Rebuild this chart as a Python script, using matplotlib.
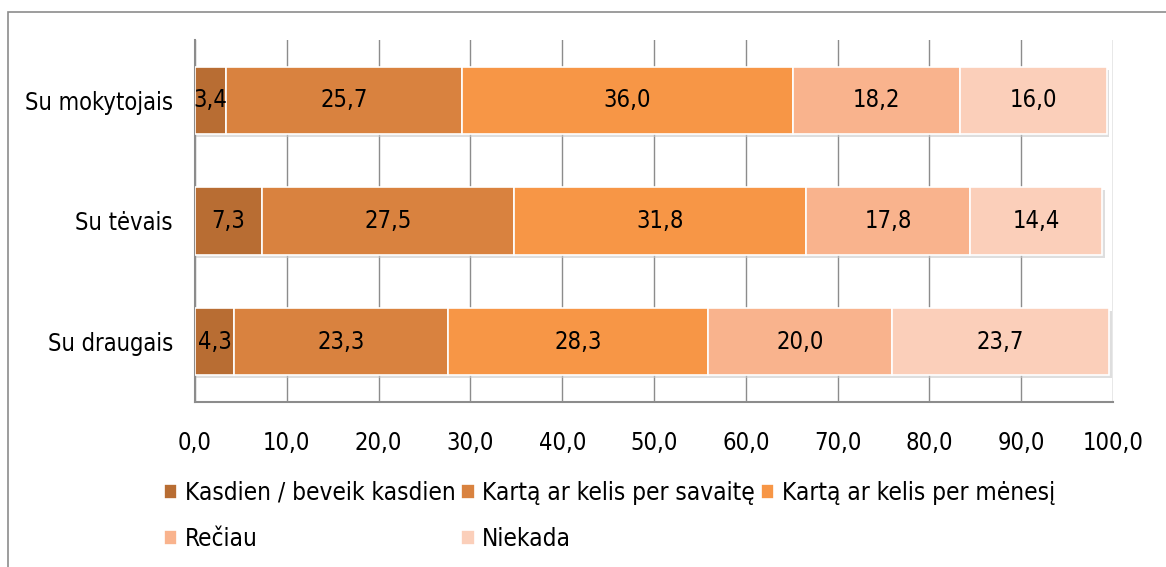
#!/usr/bin/env python3
import matplotlib
matplotlib.use("Agg")
import matplotlib.pyplot as plt
from matplotlib.patches import Rectangle
import numpy as np

groups = ["Su mokytojais", "Su tėvais", "Su draugais"]
series_names = ["Kasdien / beveik kasdien", "Kartą ar kelis per savaitę",
                "Kartą ar kelis per mėnesį", "Rečiau", "Niekada"]
kasdien = [3.4, 7.3, 4.3]
savaite = [25.7, 27.5, 23.3]
menesi = [36.0, 31.8, 28.3]
reciau = [18.2, 17.8, 20.0]
niekada = [16.0, 14.4, 23.7]
x_ticks = [0, 10, 20, 30, 40, 50, 60, 70, 80, 90, 100]

colors = ["#B86D33", "#D9823F", "#F79646", "#F9B38D", "#FBCFBA"]

plt.rcParams['font.family'] = ['DejaVu Sans']
plt.rcParams['font.stretch'] = 'condensed'
FS = 17


def create_chart():
    fig = plt.figure(figsize=(11.66, 5.67), dpi=100)
    # outer chart frame
    fig.add_artist(Rectangle((8 / 1166, -0.1), 1.2, 1 - 12 / 567 + 0.1,
                             transform=fig.transFigure, fill=False,
                             edgecolor="#8C8C8C", linewidth=1.2))

    ax = fig.add_axes([195 / 1166, 1 - 402 / 567, (1113 - 195) / 1166, (402 - 40) / 567])
    all_series = [kasdien, savaite, menesi, reciau, niekada]
    y = np.arange(len(groups))[::-1]
    totals = np.sum(all_series, axis=0)

    # soft shadow under the bars
    ax.barh(y - 0.025, totals + 0.3, left=0, height=0.56, color="#C8C8C8",
            alpha=0.6, linewidth=0, zorder=2)

    left = np.zeros(len(groups))
    handles = []
    for name, vals, c in zip(series_names, all_series, colors):
        vals = np.array(vals)
        bars = ax.barh(y, vals, left=left, height=0.56, color=c,
                       edgecolor="white", linewidth=1.2, label=name, zorder=3)
        handles.append(bars)
        for yi, l, v in zip(y, left, vals):
            ax.text(l + v / 2, yi, f"{v:.1f}".replace(".", ","),
                    ha="center", va="center", fontsize=FS, zorder=4)
        left = left + vals

    ax.set_xlim(0, 100)
    ax.set_ylim(-0.5, 2.5)
    ax.set_xticks(x_ticks)
    ax.set_xticklabels([f"{t:.1f}".replace(".", ",") for t in x_ticks], fontsize=FS)
    ax.set_yticks(y)
    ax.set_yticklabels(groups, fontsize=FS)
    ax.tick_params(axis="y", length=0, pad=16)
    ax.tick_params(axis="x", length=0, pad=21)
    ax.grid(axis="x", color="#8C8C8C", linewidth=1.0, zorder=0)
    for s in ["top", "right"]:
        ax.spines[s].set_visible(False)
    for s in ["left", "bottom"]:
        ax.spines[s].set_color("#8C8C8C")
        ax.spines[s].set_linewidth(1.5)

    order = [0, 3, 1, 4, 2]
    fig.legend([handles[i] for i in order], [series_names[i] for i in order],
               ncol=3, loc="upper left", bbox_to_anchor=(142 / 1166, 1 - 459 / 567),
               frameon=False, fontsize=17.5, handlelength=0.55, handleheight=0.55,
               handletextpad=0.3, columnspacing=0.25, labelspacing=0.92)

    fig.savefig("out.png", dpi=100)


if __name__ == "__main__":
    create_chart()
